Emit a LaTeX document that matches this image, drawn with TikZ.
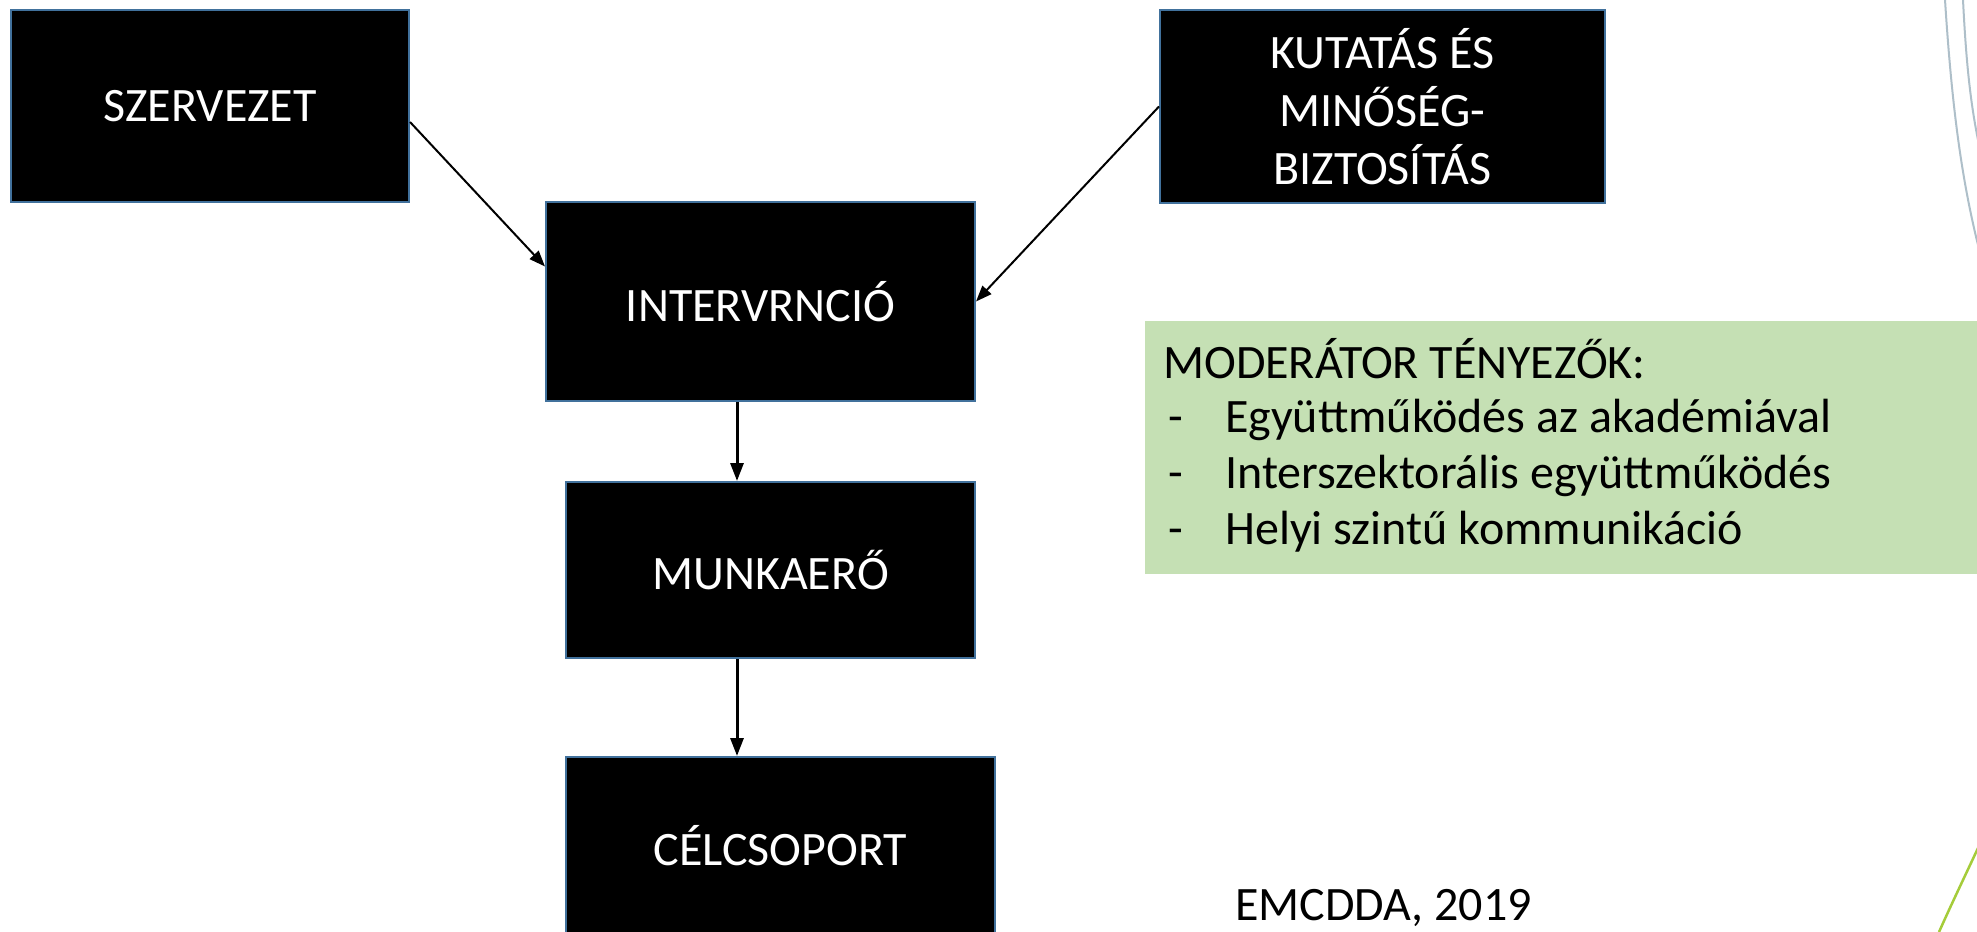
\documentclass[tikz,border=0pt]{standalone}
\usepackage{fontspec}
\setmainfont{Carlito}
\usetikzlibrary{arrows.meta}
\definecolor{boxline}{HTML}{41719C}
\definecolor{modgreen}{HTML}{C5E0B4}
\definecolor{decogray}{HTML}{AEBFC9}
\definecolor{decogreen}{HTML}{A5CC3A}
\newcommand{\bigfont}{\fontsize{48}{58}\selectfont}
\tikzset{
  blackbox/.style={draw=boxline, line width=2pt, fill=black, text=white,
    font=\bigfont, inner sep=0pt, align=center},
  modtxt/.style={anchor=base west, inner sep=0pt, font=\bigfont},
}
\begin{document}
\begin{tikzpicture}[x=1pt,y=-1pt,>={Triangle[length=16pt,width=12pt]}]
  \useasboundingbox (0,0) rectangle (1977,931);
  % theme lines at the right edge
  \draw[decogray, line width=2pt] (1945,0) .. controls (1952,110) and (1962,180) .. (1978,245);
  \draw[decogray, line width=2pt] (1963,0) .. controls (1966,60) and (1970,100) .. (1978,140);
  \draw[decogreen, line width=2.5pt] (1978,848) .. controls (1964,878) and (1951,905) .. (1939,932);
  % boxes
  \node[blackbox, minimum width=398pt, minimum height=192pt] (szerv) at (210,106) {SZERVEZET};
  \node[blackbox, minimum width=445pt, minimum height=193pt] (kutat) at (1382.5,106.5) {KUTATÁS ÉS\\MINŐSÉG-\\BIZTOSÍTÁS};
  \node[blackbox, minimum width=429pt, minimum height=199pt] (interv) at (760.5,301.5) {INTERVRNCIÓ};
  \node[blackbox, minimum width=409pt, minimum height=176pt] (munka) at (770.5,570) {MUNKAERŐ};
  \node[blackbox, minimum width=429pt, minimum height=178pt] (celcs) at (780.5,846) {CÉLCSOPORT};
  % arrows
  \draw[->, line width=2pt] ([yshift=-16pt]szerv.east) -- ([yshift=35pt]interv.west);
  \draw[->, line width=2pt] (kutat.west) -- (interv.east);
  \draw[->, line width=3pt, >={Triangle[length=18pt,width=13pt]}] ([xshift=-23.5pt]interv.south) -- ([xshift=-33.5pt]munka.north);
  \draw[->, line width=3pt, >={Triangle[length=18pt,width=13pt]}] ([xshift=-33.5pt]munka.south) -- ([xshift=-43.5pt]celcs.north);
  % moderator factors
  \node[fill=modgreen, inner sep=0pt, anchor=north west, minimum width=835pt, minimum height=253pt] (moder) at (1145,321) {};
  \node[modtxt] (modhead) at (1163,378) {MODERÁTOR TÉNYEZŐK:};
  \foreach \t [count=\i] in {Együttműködés az akadémiával, Interszektorális együttműködés, Helyi szintű kommunikáció} {
    \node[modtxt] (dash\i) at (1168,{376+56*\i}) {-};
    \node[modtxt] (item\i) at (1225,{376+56*\i}) {\t};
  }
  \node[modtxt] (source) at (1235,920) {EMCDDA, 2019};
\end{tikzpicture}
\end{document}
